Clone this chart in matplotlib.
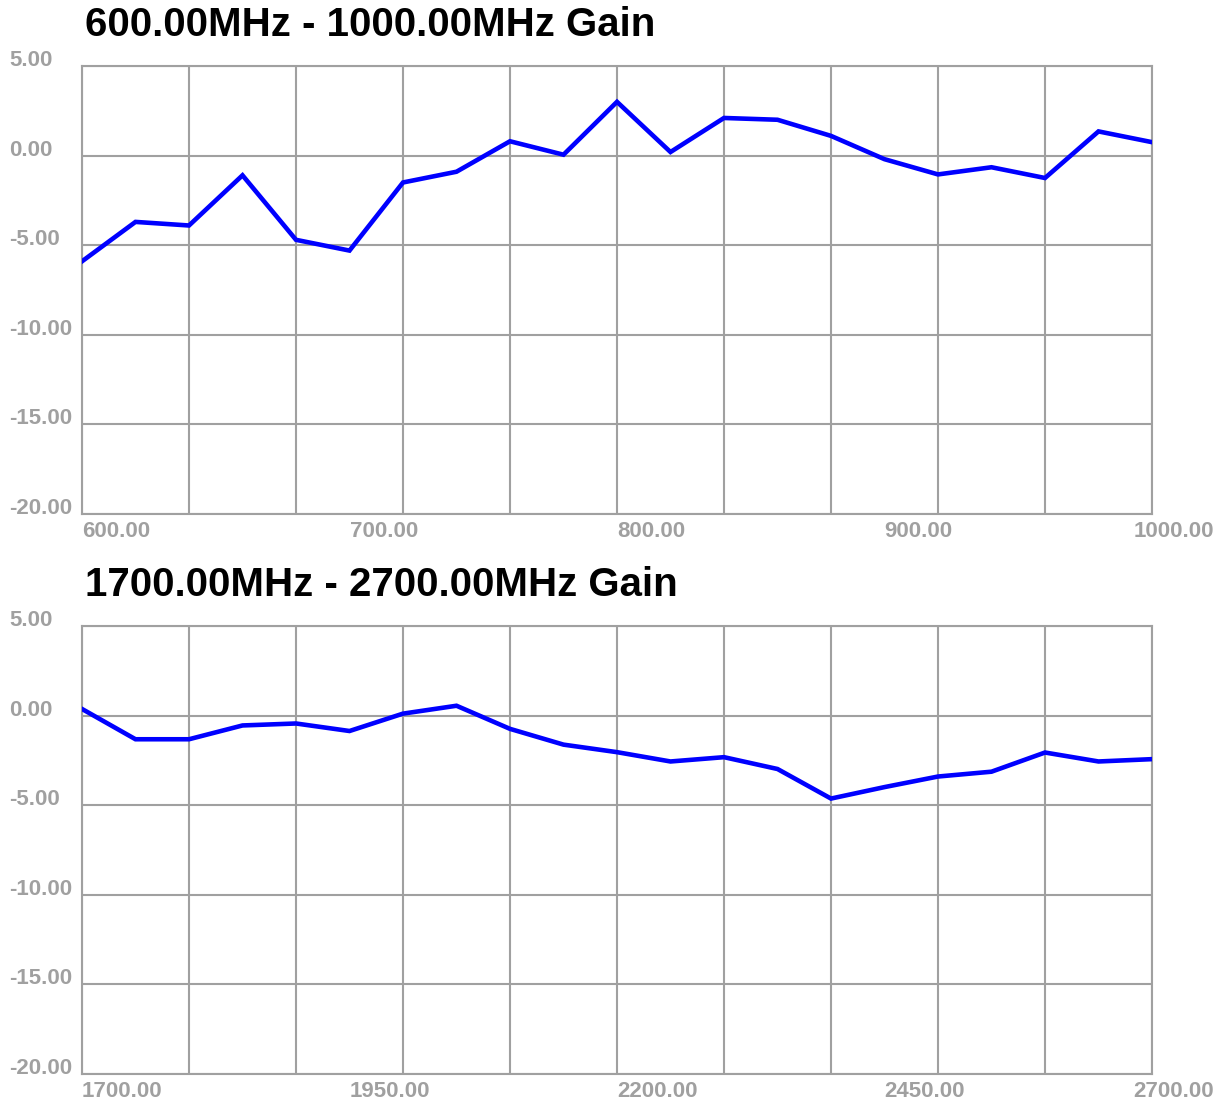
import matplotlib
matplotlib.use("Agg")
import matplotlib.pyplot as plt
from matplotlib.transforms import blended_transform_factory

# data
top_freq = [600, 620, 640, 660, 680, 700, 720, 740, 760, 780, 800,
            820, 840, 860, 880, 900, 920, 940, 960, 980, 1000]
top_gain = [-5.9, -3.7, -3.9, -1.1, -4.7, -5.3, -1.5, -0.9, 0.8, 0.05, 3.0,
            0.2, 2.1, 2.0, 1.1, -0.2, -1.05, -0.65, -1.25, 1.35, 0.75]
top_grid_x = [600, 640, 680, 720, 760, 800, 840, 880, 920, 960, 1000]
top_label_x = [600, 700, 800, 900, 1000]

bot_freq = [1700, 1750, 1800, 1850, 1900, 1950, 2000, 2050, 2100, 2150, 2200,
            2250, 2300, 2350, 2400, 2450, 2500, 2550, 2600, 2650, 2700]
bot_gain = [0.37, -1.32, -1.32, -0.55, -0.44, -0.86, 0.11, 0.55, -0.74, -1.62, -2.04,
            -2.56, -2.32, -2.98, -4.63, -3.99, -3.40, -3.13, -2.06, -2.56, -2.43]
bot_grid_x = [1700, 1800, 1900, 2000, 2100, 2200, 2300, 2400, 2500, 2600, 2700]
bot_label_x = [1700, 1950, 2200, 2450, 2700]

y_ticks = [5, 0, -5, -10, -15, -20]

titles = ["600.00MHz - 1000.00MHz Gain", "1700.00MHz - 2700.00MHz Gain"]

W, H = 1224, 1107
GRAY = "#a0a0a0"
LBL_FONT = ["Liberation Sans", "DejaVu Sans"]

fig = plt.figure(figsize=(W / 100, H / 100), dpi=100)
fig.patch.set_facecolor("white")


def panel(top_px, title, freq, gain, grid_x, label_x):
    bottom_px = top_px + 448
    ax = fig.add_axes([82 / W, 1 - bottom_px / H, 1070 / W, 448 / H])
    ax.plot(freq, gain, color="#0000ff", lw=3.3, solid_joinstyle="miter", zorder=3)
    ax.set_xlim(grid_x[0], grid_x[-1])
    ax.set_ylim(y_ticks[-1], y_ticks[0])
    ax.set_xticks(grid_x)
    ax.set_yticks(y_ticks)
    ax.tick_params(length=0, labelbottom=False, labelleft=False)
    ax.grid(True, color=GRAY, lw=1.5)
    for s in ax.spines.values():
        s.set_color(GRAY)
        s.set_linewidth(1.5)

    # y labels: left aligned near the figure edge, sitting on the grid line
    tr = blended_transform_factory(fig.transFigure, ax.transData)
    for v in y_ticks:
        ax.text(9 / W, v, "%.2f" % v, transform=tr, ha="left", va="baseline",
                fontsize=16, fontweight="bold", color=GRAY, family=LBL_FONT)
    # x labels: left aligned at the tick, just under the axis;
    # the last one is pushed back inside the figure
    trx = ax.get_xaxis_transform()
    trf = blended_transform_factory(fig.transFigure, ax.transAxes)
    for v in label_x:
        if v == label_x[-1]:
            ax.text(1214 / W, -0.015, "%.2f" % v, transform=trf, ha="right", va="top",
                    fontsize=16, fontweight="bold", color=GRAY, family=LBL_FONT,
                    clip_on=False)
        else:
            ax.text(v, -0.015, "%.2f" % v, transform=trx, ha="left", va="top",
                    fontsize=16, fontweight="bold", color=GRAY, family=LBL_FONT,
                    clip_on=False)

    fig.text(85 / W, 1 - (top_px - 30) / H, title, ha="left", va="baseline",
             fontsize=29, fontweight="bold", color="black",
             family=["Liberation Sans", "DejaVu Sans"])
    return ax


panel(66, titles[0], top_freq, top_gain, top_grid_x, top_label_x)
panel(626, titles[1], bot_freq, bot_gain, bot_grid_x, bot_label_x)

fig.savefig("out.png", dpi=100, facecolor="white")
